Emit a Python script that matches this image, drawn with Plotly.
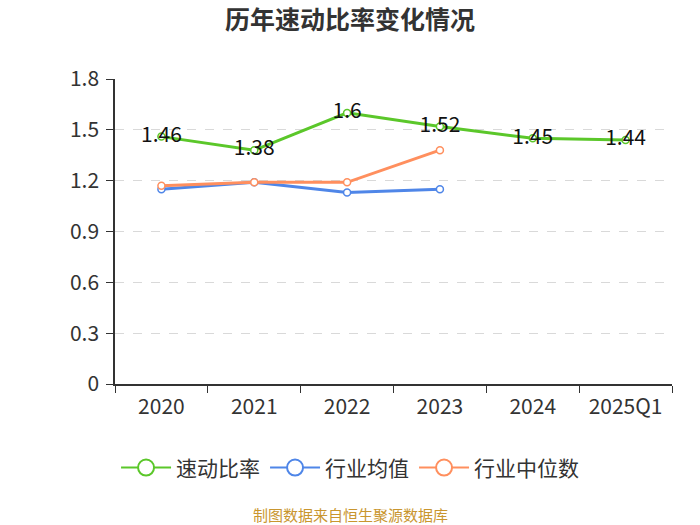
import plotly.graph_objects as go

# data
years = ["2020", "2021", "2022", "2023", "2024", "2025Q1"]
quick_ratio = [1.46, 1.38, 1.6, 1.52, 1.45, 1.44]
industry_mean = [1.15, 1.19, 1.13, 1.15, None, None]
industry_median = [1.17, 1.19, 1.19, 1.38, None, None]

y_ticks = [0, 0.3, 0.6, 0.9, 1.2, 1.5, 1.8]

green = "#5BC72A"
blue = "#4F86E8"
orange = "#FF8F5E"
font_name = "Noto Sans CJK SC"

fig = go.Figure()

# actual lines (kept out of the legend, small markers)
fig.add_trace(go.Scatter(
    x=years, y=industry_mean, mode="lines+markers", showlegend=False,
    line=dict(color=blue, width=3),
    marker=dict(size=7, color="white", line=dict(color=blue, width=1.5)),
))
fig.add_trace(go.Scatter(
    x=years, y=industry_median, mode="lines+markers", showlegend=False,
    line=dict(color=orange, width=3),
    marker=dict(size=7, color="white", line=dict(color=orange, width=1.5)),
))
fig.add_trace(go.Scatter(
    x=years, y=quick_ratio, mode="lines+markers+text", showlegend=False,
    text=[str(v) for v in quick_ratio], textposition="middle center",
    textfont=dict(size=21, color="#111", family=font_name),
    line=dict(color=green, width=3),
    marker=dict(size=7, color="white", line=dict(color=green, width=1.5)),
))

# legend-only traces so the legend gets the bigger hollow circles
for name, color in [("速动比率", green), ("行业均值", blue), ("行业中位数", orange)]:
    fig.add_trace(go.Scatter(
        x=[None], y=[None], mode="lines+markers", name=name,
        line=dict(color=color, width=2),
        marker=dict(size=18, color="white", line=dict(color=color, width=2)),
    ))

fig.update_layout(
    width=700, height=525,
    margin=dict(l=115, r=28, t=79, b=141),
    paper_bgcolor="white", plot_bgcolor="white",
    font=dict(family=font_name, color="#333"),
    title=dict(text="<b>历年速动比率变化情况</b>", x=0.5, xanchor="center",
               y=0.962, yanchor="middle", font=dict(size=25, color="#333")),
    # x=0.422 puts the legend centre on the page centre (350px)
    legend=dict(orientation="h", x=0.422, xanchor="center",
                y=-0.275, yanchor="middle",
                font=dict(size=21, color="#333"), itemwidth=50, traceorder="normal"),
    showlegend=True,
)

# points sit in the middle of each category band
fig.update_xaxes(
    type="category", range=[-0.5, len(years) - 0.5],
    tickson="boundaries", ticks="outside", ticklen=7,
    tickcolor="#333", showline=True, linecolor="#333", linewidth=1.5,
    showgrid=False, tickfont=dict(size=21, color="#333"), ticklabelstandoff=3,
)
fig.update_yaxes(
    range=[0, 1.8], tickvals=y_ticks, ticktext=[str(t) for t in y_ticks],
    ticks="outside", ticklen=7, tickcolor="#333",
    showline=True, linecolor="#333", linewidth=1.5,
    showgrid=True, gridcolor="#d9d9d9", griddash="dash", gridwidth=1,
    zeroline=False, tickfont=dict(size=21, color="#333"), ticklabelstandoff=3,
)

# source note, centred on the page rather than the plot area
fig.add_annotation(
    text="制图数据来自恒生聚源数据库", xref="paper", yref="paper",
    x=0.422, y=-0.427, xanchor="center", yanchor="middle", showarrow=False,
    font=dict(size=15, color="#C9962F", family=font_name),
)

# drop the default 8px body margin so the figure sits at the page origin
fig.write_html("out.html", config={"displayModeBar": False},
               post_script="document.body.style.margin='0';")
